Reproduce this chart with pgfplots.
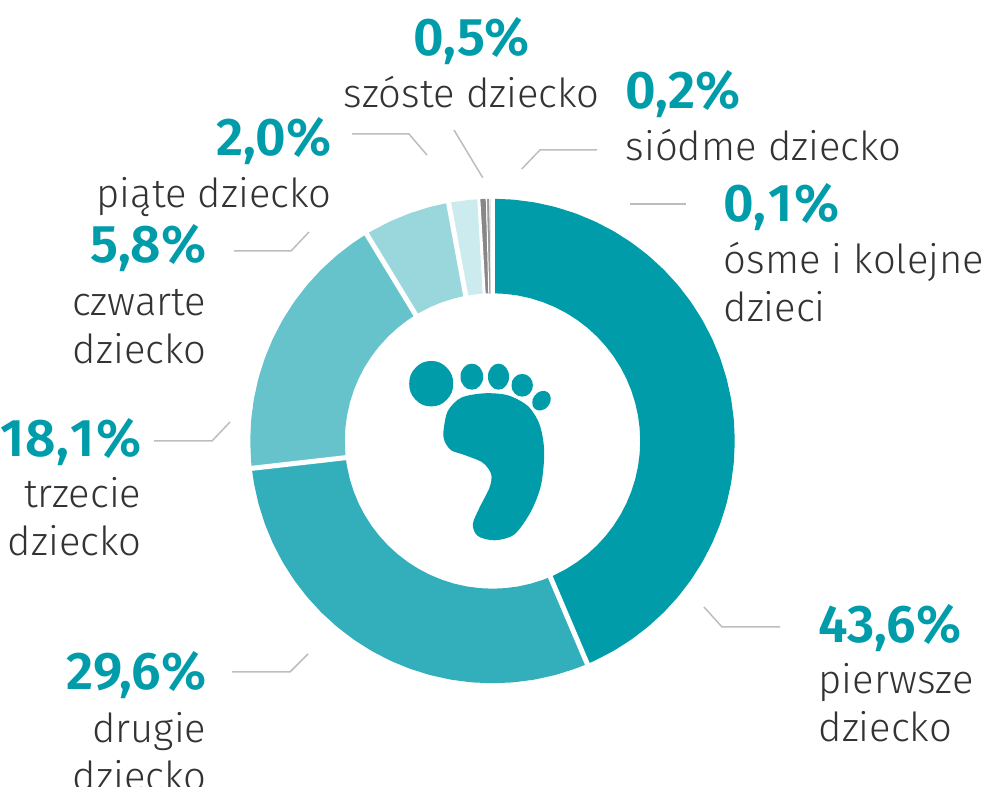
\documentclass[border=0pt]{standalone}
\usepackage{pgfplots}
\pgfplotsset{compat=1.18}
\usepackage{fontspec}
\setmainfont{Fira Sans Light}
\newfontfamily\numfont{Fira Sans SemiBold}
\definecolor{c1}{HTML}{009CA9}
\definecolor{c2}{HTML}{33AFBB}
\definecolor{c3}{HTML}{66C3CC}
\definecolor{c4}{HTML}{99D7DC}
\definecolor{c5}{HTML}{CCEBEE}
\definecolor{c6}{HTML}{878787}
\definecolor{c7}{HTML}{9A9A9A}
\definecolor{c8}{HTML}{E4E4E4}
\definecolor{lead}{HTML}{BDBDBD}
\definecolor{txt}{HTML}{333333}
\newcommand{\num}[1]{{\fontsize{53}{53}\selectfont\numfont\color{c1}#1}}
\newcommand{\lab}[1]{{\fontsize{40}{40}\selectfont\color{txt}#1}}
\begin{document}
\begin{tikzpicture}
\path[use as bounding box] (0,0) rectangle (986pt,787pt);
\begin{axis}[
  at={(0,0)},anchor=south west,
  scale only axis,width=986pt,height=787pt,
  xmin=-492.5,xmax=493.5,ymin=-346,ymax=441,
  hide axis,clip=false,
  every axis plot/.append style={no markers},
  ring/.style={line width=94.5pt,line cap=butt,line join=round},
  sep/.style={white,line width=#1,line cap=butt},
  leadl/.style={lead,line width=1.5pt},
]
% sectors: (angle,radius), angles from the shares, clockwise from the top
\addplot[ring,c1,data cs=polar] coordinates {(90,195)(85,195)(80,195)(75,195)(70,195)(65,195)(60,195)(55,195)(50,195)(45,195)(40,195)(35,195)(30,195)(25,195)(20,195)(15,195)(10,195)(5,195)(0,195)(-5,195)(-10,195)(-15,195)(-20,195)(-25,195)(-30,195)(-35,195)(-40,195)(-45,195)(-50,195)(-55,195)(-60,195)(-65,195)(-66.96,195)};
\addplot[ring,c2,data cs=polar] coordinates {(-66.96,195)(-70,195)(-75,195)(-80,195)(-85,195)(-90,195)(-95,195)(-100,195)(-105,195)(-110,195)(-115,195)(-120,195)(-125,195)(-130,195)(-135,195)(-140,195)(-145,195)(-150,195)(-155,195)(-160,195)(-165,195)(-170,195)(-173.52,195)};
\addplot[ring,c3,data cs=polar] coordinates {(-173.52,195)(-175,195)(-180,195)(-185,195)(-190,195)(-195,195)(-200,195)(-205,195)(-210,195)(-215,195)(-220,195)(-225,195)(-230,195)(-235,195)(-238.68,195)};
\addplot[ring,c4,data cs=polar] coordinates {(-238.68,195)(-240,195)(-245,195)(-250,195)(-255,195)(-259.56,195)};
\addplot[ring,c5,data cs=polar] coordinates {(-259.56,195)(-265,195)(-266.76,195)};
\addplot[ring,c6,data cs=polar] coordinates {(-266.76,195)(-268.56,195)};
\addplot[ring,c7,data cs=polar] coordinates {(-268.56,195)(-269.28,195)};
\addplot[ring,c8,data cs=polar] coordinates {(-269.28,195)(-269.64,195)};
% separators
\addplot[sep=5pt,data cs=polar] coordinates {(-66.96,140)(-66.96,250)};
\addplot[sep=5pt,data cs=polar] coordinates {(-173.52,140)(-173.52,250)};
\addplot[sep=5pt,data cs=polar] coordinates {(-238.68,140)(-238.68,250)};
\addplot[sep=5pt,data cs=polar] coordinates {(-259.56,140)(-259.56,250)};
\addplot[sep=3pt,data cs=polar] coordinates {(-266.76,140)(-266.76,250)};
\addplot[sep=1pt,data cs=polar] coordinates {(-268.56,140)(-268.56,250)};
\addplot[sep=4pt,data cs=polar] coordinates {(89.9,140)(89.9,250)};
% foot
\addplot[fill=c1,draw=none,smooth cycle] coordinates {(-49,10)(-44.7,30)(-31.3,43.3)(-8,47.7)(15.3,45.7)(35.3,35)(47,16.7)(51.7,-10)(48.7,-43.3)(38.7,-70)(22,-93.3)(2,-99.3)(-14.7,-95)(-19.7,-83.3)(-13,-66.7)(-3,-46.7)(-1.3,-33.3)(-9.7,-21.7)(-28,-14)(-41.3,-9.3)(-48,0)};
\addplot[fill=c1,draw=none,smooth cycle,tension=0.75] coordinates {(-39.3,57.3)(-45.7,73.3)(-61.3,80)(-76.9,73.3)(-83.3,57.3)(-76.9,41.3)(-61.3,34.6)(-45.7,41.3)};
\addplot[fill=c1,draw=none,smooth cycle,tension=0.75] coordinates {(-9.4,64.3)(-12.7,73.5)(-20.7,77.3)(-28.7,73.5)(-32,64.3)(-28.7,55.1)(-20.7,51.3)(-12.7,55.1)};
\addplot[fill=c1,draw=none,smooth cycle,tension=0.75] coordinates {(16.5,64.3)(13.4,73.5)(6,77.3)(-1.4,73.5)(-4.5,64.3)(-1.4,55.1)(6,51.3)(13.4,55.1)};
\addplot[fill=c1,draw=none,smooth cycle,tension=0.75] coordinates {(40.4,55.7)(37.3,63.7)(29.7,67)(22.1,63.7)(19,55.7)(22.1,47.7)(29.7,44.4)(37.3,47.7)};
\addplot[fill=c1,draw=none,smooth cycle,tension=0.75] coordinates {(55.3,48.7)(58.25,42.6)(55.8,35.2)(49.35,30.8)(42.7,31.9)(39.75,38)(42.2,45.4)(48.65,49.8)};
% leader lines
\addplot[leadl] coordinates {(211.5,-166)(229.5,-186)(287.5,-186)};
\addplot[leadl] coordinates {(-260.5,-231)(-202.5,-231)(-184.5,-213)};
\addplot[leadl] coordinates {(-338.5,0)(-280.5,0)(-262.5,19)};
\addplot[leadl] coordinates {(-258.5,190)(-201.5,190)(-183.5,209)};
\addplot[leadl] coordinates {(-140.5,307)(-83.5,307)(-65.5,286)};
\addplot[leadl] coordinates {(-38.5,311)(-9.8,263.3)};
\addplot[leadl] coordinates {(104.5,291)(47.5,291)(29.2,272)};
\addplot[leadl] coordinates {(137.5,237)(193.5,237)};
% labels (axis x = px - 492.5, axis y = 441 - py)
\node[anchor=base west,inner sep=0pt] at (axis cs:326,-202) {\num{43,6\%}};
\node[anchor=base west,inner sep=0pt] at (axis cs:326,-253) {\lab{pierwsze}};
\node[anchor=base west,inner sep=0pt] at (axis cs:326,-301) {\lab{dziecko}};
\node[anchor=base east,inner sep=0pt] at (axis cs:-286,-249) {\num{29,6\%}};
\node[anchor=base east,inner sep=0pt] at (axis cs:-286,-302) {\lab{drugie}};
\node[anchor=base east,inner sep=0pt] at (axis cs:-286,-350) {\lab{dziecko}};
\node[anchor=base east,inner sep=0pt] at (axis cs:-351,-16) {\num{\kern1.5pt 1\kern1.5pt 8,\kern1.5pt 1\kern1.5pt\%}};
\node[anchor=base east,inner sep=0pt] at (axis cs:-351,-67) {\lab{trzecie}};
\node[anchor=base east,inner sep=0pt] at (axis cs:-351,-115) {\lab{dziecko}};
\node[anchor=base east,inner sep=0pt] at (axis cs:-286,178) {\num{5,8\%}};
\node[anchor=base east,inner sep=0pt] at (axis cs:-286,125) {\lab{czwarte}};
\node[anchor=base east,inner sep=0pt] at (axis cs:-286,77) {\lab{dziecko}};
\node[anchor=base east,inner sep=0pt] at (axis cs:-161,285) {\num{2,0\%}};
\node[anchor=base east,inner sep=0pt] at (axis cs:-161,233) {\lab{piąte dziecko}};
\node[anchor=base,inner sep=0pt] at (axis cs:-21,385) {\num{0,5\%}};
\node[anchor=base,inner sep=0pt] at (axis cs:-21,333) {\lab{szóste dziecko}};
\node[anchor=base west,inner sep=0pt] at (axis cs:133,332) {\num{0,2\%}};
\node[anchor=base west,inner sep=0pt] at (axis cs:133,280) {\lab{siódme dziecko}};
\node[anchor=base west,inner sep=0pt] at (axis cs:231,219) {\num{0,\kern2pt 1\kern2pt\%}};
\node[anchor=base west,inner sep=0pt] at (axis cs:231,167) {\lab{ósme i kolejne}};
\node[anchor=base west,inner sep=0pt] at (axis cs:231,119) {\lab{dzieci}};
\end{axis}
\end{tikzpicture}
\end{document}
